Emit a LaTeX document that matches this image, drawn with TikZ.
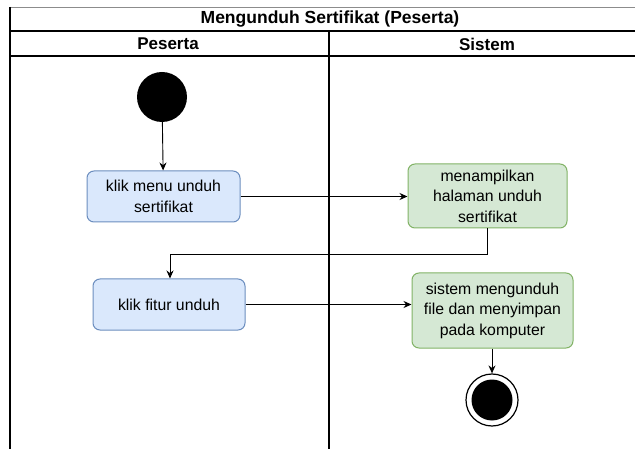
\documentclass[tikz,border=0pt]{standalone}
\usepackage{fontspec}
\setmainfont{Liberation Sans}
\usetikzlibrary{arrows.meta}
\definecolor{bluefill}{HTML}{DAE8FC}
\definecolor{blueline}{HTML}{6C8EBF}
\definecolor{greenfill}{HTML}{D5E8D4}
\definecolor{greenline}{HTML}{82B366}
\begin{document}
\begin{tikzpicture}[x=1pt,y=-1pt,
  lane/.style={draw=black,line width=1.2pt},
  actblue/.style={draw=blueline,fill=bluefill,rounded corners=7pt,line width=1pt,
    align=center,font=\fontsize{15.8}{20.5}\selectfont,inner sep=0pt},
  actgreen/.style={draw=greenline,fill=greenfill,rounded corners=7pt,line width=1pt,
    align=center,font=\fontsize{15.8}{20.5}\selectfont,inner sep=0pt},
  flow/.style={draw=black,line width=0.9pt,-{Stealth[length=8pt,width=7pt]}},
  hdr/.style={font=\bfseries\fontsize{17}{20}\selectfont}]
\useasboundingbox (0,0) rectangle (635,449);
\fill[white] (0,0) rectangle (635,449);

% swimlane frame
\draw[draw=black!45,line width=0.8pt] (10,7) -- (635,7);
\draw[lane] (10,31) -- (635,31);
\draw[lane] (10,56) -- (635,56);
\draw[lane] (10,7) -- (10,449);
\draw[lane] (329,31) -- (329,449);

\node[hdr,font=\bfseries\fontsize{17.5}{20}\selectfont] (title) at (330,19.5) {Mengunduh Sertifikat (Peserta)};
\node[hdr] (lane1) at (168,44) {Peserta};
\node[hdr] (lane2) at (487,44) {Sistem};

% start node
\node[circle,fill=black,minimum size=50pt,inner sep=0pt] (start) at (162,97) {};

% activities
\node[actblue,minimum width=153pt,minimum height=51pt] (a1) at (163.5,196.5)
  {klik menu unduh\\sertifikat};
\node[actgreen,minimum width=159pt,minimum height=64pt] (a2) at (487.5,196)
  {menampilkan\\halaman unduh\\sertifikat};
\node[actblue,minimum width=152pt,minimum height=51pt] (a3) at (169,304.5)
  {klik fitur unduh};
\node[actgreen,minimum width=161pt,minimum height=75pt] (a4) at (492.5,310.5)
  {sistem mengunduh\\file dan menyimpan\\pada komputer};

% end node
\node[circle,draw=black,line width=1.2pt,fill=white,minimum size=52pt,inner sep=0pt] (stop) at (492,400) {};
\node[circle,fill=black,minimum size=41pt,inner sep=0pt] (stopin) at (492,400) {};

% transitions
\coordinate (c1) at (487.5,254);
\coordinate (c2) at (170,254);
\draw[flow] (start) -- (a1);
\draw[flow] (a1.east) -- (a1.east -| a2.west);
\draw[flow] (a2.south -| c1) -- (c1) -- (c2) -- (c2 |- a3.north);
\draw[flow] (a3.east) -- (a3.east -| a4.west);
\draw[flow] (a4.south -| stop) -- (stop.north);
\end{tikzpicture}
\end{document}
